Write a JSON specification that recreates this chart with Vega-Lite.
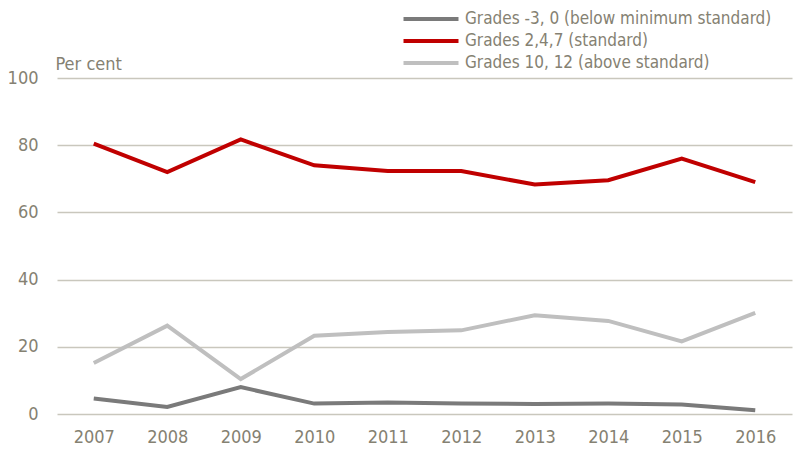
{
  "$schema": "https://vega.github.io/schema/vega-lite/v6.json",
  "width": 735,
  "height": 336,
  "autosize": {"type": "none"},
  "padding": {"left": 57, "top": 78, "right": 5, "bottom": 36},
  "background": "white",
  "config": {
    "font": "DejaVu Sans Condensed, Liberation Sans, sans-serif",
    "view": {"stroke": null}
  },
  "data": {
    "values": [
      {"year": "2007", "series": "Grades -3, 0 (below  minimum standard)", "value": 4.6},
      {"year": "2008", "series": "Grades -3, 0 (below  minimum standard)", "value": 2.1},
      {"year": "2009", "series": "Grades -3, 0 (below  minimum standard)", "value": 8.0},
      {"year": "2010", "series": "Grades -3, 0 (below  minimum standard)", "value": 3.1},
      {"year": "2011", "series": "Grades -3, 0 (below  minimum standard)", "value": 3.4},
      {"year": "2012", "series": "Grades -3, 0 (below  minimum standard)", "value": 3.1},
      {"year": "2013", "series": "Grades -3, 0 (below  minimum standard)", "value": 3.0},
      {"year": "2014", "series": "Grades -3, 0 (below  minimum standard)", "value": 3.1},
      {"year": "2015", "series": "Grades -3, 0 (below  minimum standard)", "value": 2.8},
      {"year": "2016", "series": "Grades -3, 0 (below  minimum standard)", "value": 1.1},
      {"year": "2007", "series": "Grades 2,4,7 (standard)", "value": 80.5},
      {"year": "2008", "series": "Grades 2,4,7 (standard)", "value": 72.0},
      {"year": "2009", "series": "Grades 2,4,7 (standard)", "value": 81.7},
      {"year": "2010", "series": "Grades 2,4,7 (standard)", "value": 74.0},
      {"year": "2011", "series": "Grades 2,4,7 (standard)", "value": 72.3},
      {"year": "2012", "series": "Grades 2,4,7 (standard)", "value": 72.3},
      {"year": "2013", "series": "Grades 2,4,7 (standard)", "value": 68.3},
      {"year": "2014", "series": "Grades 2,4,7 (standard)", "value": 69.6},
      {"year": "2015", "series": "Grades 2,4,7 (standard)", "value": 76.0},
      {"year": "2016", "series": "Grades 2,4,7 (standard)", "value": 69.0},
      {"year": "2007", "series": "Grades 10, 12 (above standard)", "value": 15.2},
      {"year": "2008", "series": "Grades 10, 12 (above standard)", "value": 26.3},
      {"year": "2009", "series": "Grades 10, 12 (above standard)", "value": 10.4},
      {"year": "2010", "series": "Grades 10, 12 (above standard)", "value": 23.3},
      {"year": "2011", "series": "Grades 10, 12 (above standard)", "value": 24.4},
      {"year": "2012", "series": "Grades 10, 12 (above standard)", "value": 24.9},
      {"year": "2013", "series": "Grades 10, 12 (above standard)", "value": 29.4},
      {"year": "2014", "series": "Grades 10, 12 (above standard)", "value": 27.7},
      {"year": "2015", "series": "Grades 10, 12 (above standard)", "value": 21.6},
      {"year": "2016", "series": "Grades 10, 12 (above standard)", "value": 30.1}
    ]
  },
  "mark": {"type": "line", "strokeWidth": 4},
  "encoding": {
    "x": {
      "field": "year",
      "type": "ordinal",
      "scale": {"type": "point", "padding": 0.5},
      "axis": {
        "title": null,
        "labelAngle": 0,
        "domain": false,
        "ticks": false,
        "labelPadding": 14,
        "labelFontSize": 18,
        "labelColor": "#858172"
      }
    },
    "y": {
      "field": "value",
      "type": "quantitative",
      "scale": {"domain": [0, 100], "nice": false},
      "axis": {
        "values": [0, 20, 40, 60, 80, 100],
        "title": "Per cent",
        "titleAngle": 0,
        "titleAlign": "left",
        "titleBaseline": "bottom",
        "titleX": -2,
        "titleY": -5,
        "titleFontSize": 18,
        "titleFontWeight": "normal",
        "titleColor": "#858172",
        "domain": false,
        "ticks": false,
        "labelPadding": 19,
        "labelFontSize": 18,
        "labelColor": "#858172",
        "gridColor": "#c9c7bd",
        "gridWidth": 1.5
      }
    },
    "color": {
      "field": "series",
      "type": "nominal",
      "scale": {
        "domain": ["Grades -3, 0 (below  minimum standard)", "Grades 2,4,7 (standard)", "Grades 10, 12 (above standard)"],
        "range": ["#7a7a7a", "#c00000", "#bfbfbf"]
      },
      "legend": {
        "title": null,
        "orient": "none",
        "legendX": 365,
        "legendY": -68,
        "symbolType": "M-4,0H4",
        "symbolStrokeWidth": 4,
        "symbolSize": 189,
        "labelFontSize": 17,
        "labelColor": "#858172",
        "labelOffset": 25,
        "rowPadding": 5,
        "labelLimit": 400
      }
    }
  }
}
